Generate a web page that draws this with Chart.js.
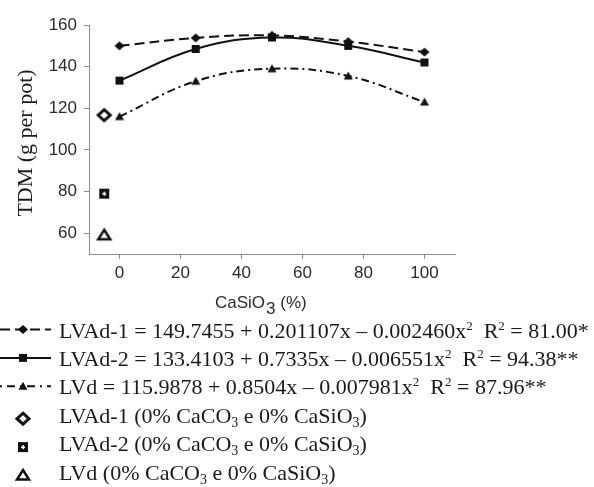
<!DOCTYPE html>
<html>
<head>
<meta charset="utf-8">
<script src="https://cdn.jsdelivr.net/npm/chart.js@4"></script>
<style>
    html, body { margin: 0; padding: 0; background: #fff; }
</style>
</head>
<body>
<canvas id="chart" width="594" height="487"></canvas>
<script>
// CaSiO3 doses (%) and total dry matter (g per pot)
const doses = [0, 25, 50, 75, 100]
const lvad1 = [150, 153.8, 155, 152, 147]
const lvad2 = [133.3, 148.5, 154, 150, 142]
const lvd = [116, 133, 139, 135.5, 123]

// controls without CaCO3 and CaSiO3, drawn left of zero
const controlDose = -5
const controlLvad1 = 116.7
const controlLvad2 = 79
const controlLvd = 59

const xTicks = [0, 20, 40, 60, 80, 100]
const yTicks = [60, 80, 100, 120, 140, 160]

const legendRows = [
    ['LVAd-1 = 149.7455 + 0.201107x \u2013 0.002460x', { up: '2' }, '  R', { up: '2' }, ' = 81.00*'],
    ['LVAd-2 = 133.4103 + 0.7335x \u2013 0.006551x', { up: '2' }, '  R', { up: '2' }, ' = 94.38**'],
    ['LVd = 115.9878 + 0.8504x \u2013 0.007981x', { up: '2' }, '  R', { up: '2' }, ' = 87.96**'],
    ['LVAd-1 (0% CaCO', { down: '3' }, ' e 0% CaSiO', { down: '3' }, ')'],
    ['LVAd-2 (0% CaCO', { down: '3' }, ' e 0% CaSiO', { down: '3' }, ')'],
    ['LVd (0% CaCO', { down: '3' }, ' e 0% CaSiO', { down: '3' }, ')']
]

const ink = '#111'

const drawMarker = (ctx, kind, x, y) => {
    ctx.save()
    ctx.fillStyle = ink
    ctx.strokeStyle = ink
    ctx.lineJoin = 'miter'
    ctx.setLineDash([])
    if (kind === 'diamond') {
        ctx.beginPath()
        ctx.moveTo(x, y - 4.5); ctx.lineTo(x + 5, y); ctx.lineTo(x, y + 4.5); ctx.lineTo(x - 5, y)
        ctx.closePath(); ctx.fill()
    } else if (kind === 'square') {
        ctx.fillRect(x - 4, y - 4, 8, 8)
    } else if (kind === 'triangle') {
        ctx.beginPath()
        ctx.moveTo(x, y - 4.5); ctx.lineTo(x + 4.5, y + 3.5); ctx.lineTo(x - 4.5, y + 3.5)
        ctx.closePath(); ctx.fill()
    } else if (kind === 'openDiamond') {
        ctx.fillStyle = '#fff'
        ctx.lineWidth = 3
        ctx.beginPath()
        ctx.moveTo(x, y - 5.5); ctx.lineTo(x + 6, y); ctx.lineTo(x, y + 5.5); ctx.lineTo(x - 6, y)
        ctx.closePath(); ctx.fill(); ctx.stroke()
    } else if (kind === 'plusSquare') {
        ctx.fillRect(x - 5, y - 5, 10, 10)
        ctx.fillStyle = '#fff'
        ctx.fillRect(x - 2, y - 0.5, 4, 1.5)
        ctx.fillRect(x - 0.5, y - 2, 1.5, 4)
    } else if (kind === 'openTriangle') {
        ctx.fillStyle = '#fff'
        ctx.lineWidth = 2.5
        ctx.beginPath()
        ctx.moveTo(x, y - 5.5); ctx.lineTo(x + 6, y + 4); ctx.lineTo(x - 6, y + 4)
        ctx.closePath(); ctx.fill(); ctx.stroke()
    }
    ctx.restore()
}

const makeMarker = (kind) => {
    const c = document.createElement('canvas')
    c.width = 18
    c.height = 18
    drawMarker(c.getContext('2d'), kind, 9, 9)
    return c
}

const points = (xs, ys) => xs.map((x, i) => ({ x: x, y: ys[i] }))

const drawRich = (ctx, parts, x, y) => {
    parts.forEach(p => {
        let text = p
        let dy = 0
        ctx.font = '22px "Liberation Serif"'
        if (typeof p !== 'string') {
            text = p.up || p.down
            dy = p.up ? -8 : 4
            ctx.font = (p.up ? '13px' : '14px') + ' "Liberation Serif"'
        }
        ctx.fillText(text, x, y + dy)
        x += ctx.measureText(text).width
    })
}

const lineSamples = [
    { dash: [10, 5], marker: 'diamond' },
    { dash: [], marker: 'square' },
    { dash: [2, 5, 8, 5], marker: 'triangle' }
]
const pointSamples = ['openDiamond', 'plusSquare', 'openTriangle']

const annotations = {
    id: 'annotations',
    afterDraw(chart) {
        const ctx = chart.ctx
        ctx.save()
        ctx.fillStyle = '#1a1a1a'

        // y title
        ctx.save()
        ctx.translate(26, 143)
        ctx.rotate(-Math.PI / 2)
        ctx.font = '22px "Liberation Serif"'
        ctx.textAlign = 'center'
        ctx.textBaseline = 'middle'
        ctx.fillText('TDM (g per pot)', 0, 0)
        ctx.restore()

        // x title
        ctx.font = '17px "Liberation Sans"'
        ctx.fillStyle = '#2b2b2b'
        let tx = 215
        ctx.fillText('CaSiO', tx, 308)
        tx += ctx.measureText('CaSiO').width + 1
        ctx.fillText('3', tx, 314)
        tx += ctx.measureText('3').width
        ctx.fillText(' (%)', tx, 308)

        // legend
        ctx.fillStyle = '#1a1a1a'
        legendRows.forEach((row, i) => {
            const base = 337.5 + i * 28.4
            if (i < 3) {
                const s = lineSamples[i]
                ctx.save()
                ctx.strokeStyle = ink
                ctx.lineWidth = 2
                ctx.setLineDash(s.dash)
                ctx.beginPath()
                ctx.moveTo(0, base - 8)
                ctx.lineTo(51, base - 8)
                ctx.stroke()
                ctx.restore()
                drawMarker(ctx, s.marker, 23, base - 8)
            } else {
                drawMarker(ctx, pointSamples[i - 3], 23, base - 4)
            }
            drawRich(ctx, row, 59, base)
        })
        ctx.restore()
    }
}

const axisColor = '#8c8c8c'
const tickFont = { family: 'Liberation Sans', size: 17 }

new Chart(document.getElementById('chart').getContext('2d'), {
    type: 'line',
    data: {
        datasets: [{
            label: 'LVAd-1',
            data: points(doses, lvad1),
            borderColor: ink,
            borderWidth: 2,
            borderDash: [10, 5],
            tension: 0.4,
            pointStyle: makeMarker('diamond')
        }, {
            label: 'LVAd-2',
            data: points(doses, lvad2),
            borderColor: ink,
            borderWidth: 2,
            tension: 0.4,
            pointStyle: makeMarker('square')
        }, {
            label: 'LVd',
            data: points(doses, lvd),
            borderColor: ink,
            borderWidth: 2,
            borderDash: [8, 4, 2, 4],
            tension: 0.4,
            pointStyle: makeMarker('triangle')
        }, {
            label: 'LVAd-1 control',
            data: points([controlDose], [controlLvad1]),
            showLine: false,
            pointStyle: makeMarker('openDiamond')
        }, {
            label: 'LVAd-2 control',
            data: points([controlDose], [controlLvad2]),
            showLine: false,
            pointStyle: makeMarker('plusSquare')
        }, {
            label: 'LVd control',
            data: points([controlDose], [controlLvd]),
            showLine: false,
            pointStyle: makeMarker('openTriangle')
        }]
    },
    options: {
        responsive: false,
        animation: false,
        layout: { padding: { top: 25, right: 139, left: 0, bottom: 0 } },
        plugins: {
            legend: { display: false },
            tooltip: { enabled: false }
        },
        scales: {
            x: {
                type: 'linear',
                min: -10,
                max: 110,
                afterBuildTicks: s => { s.ticks = xTicks.map(v => ({ value: v })) },
                afterFit: s => { s.height = 233 },
                grid: { drawOnChartArea: false, tickLength: 5, color: axisColor },
                border: { color: axisColor },
                ticks: { font: tickFont, color: '#2b2b2b', padding: 4, maxRotation: 0 }
            },
            y: {
                min: 50,
                max: 160,
                afterBuildTicks: s => { s.ticks = yTicks.map(v => ({ value: v })) },
                afterFit: s => { s.width = 89 },
                grid: { drawOnChartArea: false, tickLength: 5, color: axisColor },
                border: { color: axisColor },
                ticks: { font: tickFont, color: '#2b2b2b', padding: 7 }
            }
        }
    },
    plugins: [annotations]
})
</script>
</body>
</html>
